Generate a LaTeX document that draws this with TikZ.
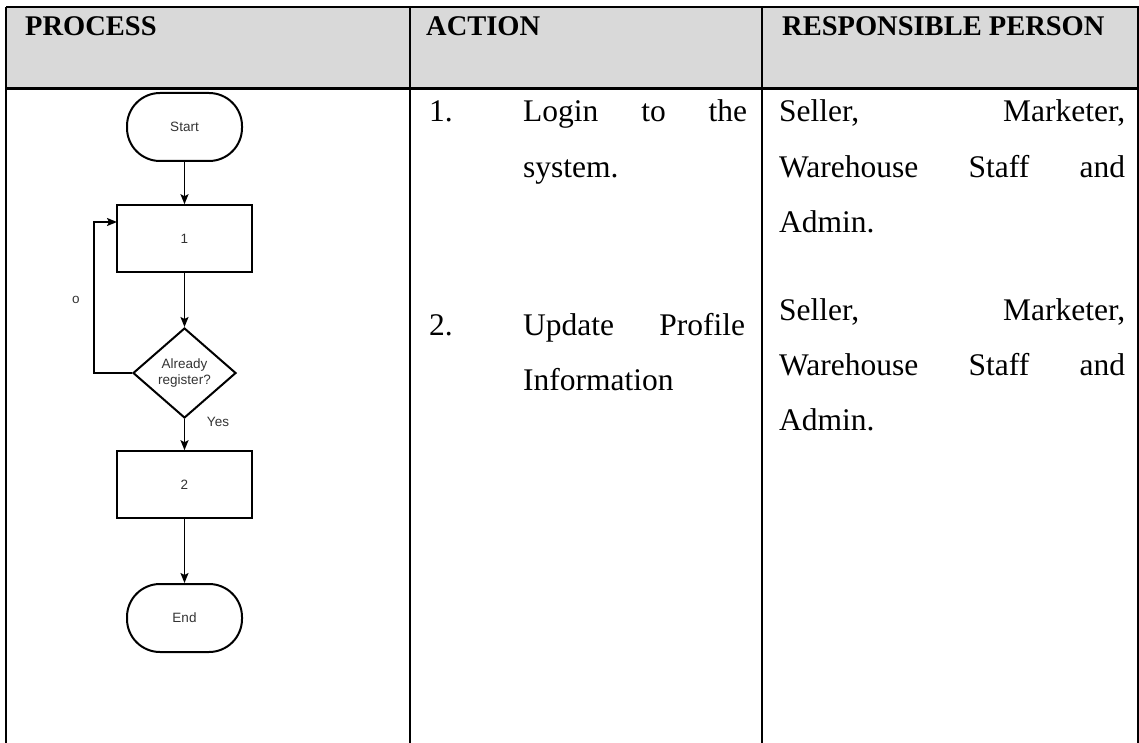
\documentclass[tikz,border=0pt]{standalone}
\usepackage{fontspec}
\setmainfont{Liberation Serif}
\newfontfamily\fcfont{Liberation Sans}
\usetikzlibrary{shapes.geometric,arrows.meta}
\definecolor{headgray}{HTML}{D9D9D9}
\definecolor{fctext}{HTML}{333333}
\begin{document}
\begin{tikzpicture}[x=1pt,y=-1pt,
  tline/.style={line width=2.5pt,black},
  body/.style={anchor=base west,inner sep=0pt,font=\fontsize{31.5}{38}\selectfont},
  head/.style={anchor=base west,inner sep=0pt,font=\bfseries\fontsize{28.5}{34}\selectfont},
  fcfontstyle/.style={font=\fcfont\fontsize{13.5}{16}\selectfont,text=fctext},
  term/.style={draw,line width=2pt,rounded corners=33pt,minimum width=115pt,minimum height=68pt,inner sep=0pt,fcfontstyle},
  procbox/.style={draw,line width=1.6pt,minimum width=135pt,minimum height=67pt,inner sep=0pt,fcfontstyle},
  decision/.style={draw,diamond,line width=2pt,minimum width=103pt,minimum height=90pt,inner sep=0pt,align=center,fcfontstyle},
  flowarrow/.style={line width=1.6pt,-{Stealth[length=10pt,width=8pt,inset=2pt]}},
  lbl/.style={inner sep=0pt,fcfontstyle}
]
\useasboundingbox (0,0) rectangle (1139,743);
% table
\fill[headgray] (6,7) rectangle (1138,89);
\draw[tline] (6,7) -- (1139,7);
\draw[line width=3pt] (6,89) -- (1139,89);
\draw[tline] (6,7) -- (6,743);
\draw[tline] (410,7) -- (410,743);
\draw[tline] (762,7) -- (762,743);
\draw[line width=1.8pt] (1138,7) -- (1138,743);
% headers
\node[head] (hp) at (25,36) {PROCESS};
\node[head] (ha) at (426,36) {ACTION};
\node[head] (hr) at (782,36) {RESPONSIBLE PERSON};
% action column
\node[body] (n1) at (429,122) {1.};
\node[body] (a1a) at (523,122) {\makebox[224pt][s]{Login to the}};
\node[body] (a1b) at (523,178) {system.};
\node[body] (n2) at (429,335) {2.};
\node[body] (a2a) at (523,335) {\makebox[222pt][s]{Update Profile}};
\node[body] (a2b) at (523,390) {Information};
% responsible column
\node[body] (r1a) at (779,122) {\makebox[346pt][s]{Seller, Marketer,}};
\node[body] (r1b) at (779,178) {\makebox[346pt][s]{Warehouse Staff and}};
\node[body] (r1c) at (779,233) {Admin.};
\node[body] (r2a) at (779,320) {\makebox[346pt][s]{Seller, Marketer,}};
\node[body] (r2b) at (779,375) {\makebox[346pt][s]{Warehouse Staff and}};
\node[body] (r2c) at (779,430) {Admin.};
% flowchart
\node[term] (start) at (184.5,127) {Start};
\node[procbox] (b1) at (184.5,238.5) {1};
\node[decision] (dec) at (184.5,373) {Already\\register?};
\node[procbox] (b2) at (184.5,484.5) {2};
\node[term] (end) at (184.5,618) {End};
\coordinate (loopbot) at (94,373);
\coordinate (looptop) at (94,222);
\coordinate (b1in) at (117,222);
\draw[flowarrow] (start.south) -- (b1.north);
\draw[flowarrow] (b1.south) -- (dec.north);
\draw[flowarrow] (dec.south) -- (b2.north);
\draw[flowarrow] (b2.south) -- (end.north);
\draw[flowarrow] (dec.west) -- (loopbot) -- (looptop) -- (b1in);
\node[lbl] (nolbl) at (76,300) {o};
\node[lbl] (yeslbl) at (218,422) {Yes};
\end{tikzpicture}
\end{document}
